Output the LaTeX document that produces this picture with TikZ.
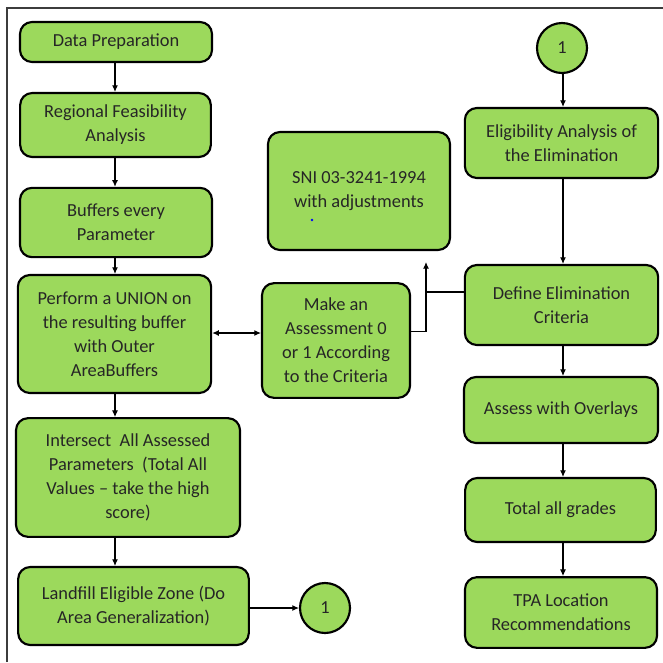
\documentclass[tikz,border=0pt]{standalone}
\usepackage{fontspec}
\setmainfont{Carlito}
\usetikzlibrary{arrows.meta,calc}
\definecolor{boxgreen}{RGB}{156,217,92}
\definecolor{framegray}{RGB}{60,60,60}
\begin{document}
\begin{tikzpicture}[x=0.75pt,y=-0.75pt,
  box/.style={draw=black,line width=1.6pt,fill=boxgreen,rounded corners=9pt,
    align=center,inner sep=2pt,font=\fontsize{13.8}{18}\selectfont,text=black!85},
  conn/.style={draw=black,line width=0.8pt},
  arr/.style={conn,-{Latex[length=5pt,width=4.5pt]}},
  darr/.style={conn,{Latex[length=5pt,width=4.5pt]}-{Latex[length=5pt,width=4.5pt]}},
  circ/.style={draw=black,line width=1.6pt,fill=boxgreen,circle,minimum size=37.5pt,
    inner sep=0pt,font=\fontsize{13.8}{18}\selectfont,text=black!85}]
\useasboundingbox (0,0) rectangle (663,662);
\fill[white] (0,0) rectangle (663,662);
\draw[framegray,line width=0.8pt] (7,662) -- (7,8) -- (663,8);

% left column
\node[box,minimum width=144pt,minimum height=30pt] (dp) at (116,42) {Data Preparation};
\node[box,minimum width=143pt,minimum height=48pt] (rfa) at (115.5,125) {Regional Feasibility\\Analysis};
\node[box,minimum width=144pt,minimum height=52pt] (buf) at (116,222.5) {Buffers every\\Parameter};
\node[box,minimum width=145pt,minimum height=88.5pt] (uni) at (114.5,334) {Perform a UNION on\\the resulting buffer\\with Outer\\AreaBuffers};
\node[box,minimum width=168pt,minimum height=89pt] (ins) at (128,477.5) {Intersect\ \ All Assessed\\Parameters\ \ (Total All\\Values -- take the high\\score)};
\node[box,minimum width=173pt,minimum height=58.5pt] (lf) at (133.5,606) {Landfill Eligible Zone (Do\\Area Generalization)};
\node[circ] (c1b) at (325,608) {1};

% middle
\node[box,minimum width=136.5pt,minimum height=88.5pt] (sni) at (359,191) {SNI 03-3241-1994\\with adjustments};
\fill[blue] (312,220) circle (1pt);
\node[box,minimum width=111pt,minimum height=86pt] (ass) at (336,340.5) {Make an\\Assessment 0\\or 1 According\\to the Criteria};

% right column
\node[circ] (c1t) at (562,48) {1};
\node[box,minimum width=145pt,minimum height=52.5pt] (eli) at (561.5,143) {Eligibility Analysis of\\the Elimination};
\node[box,minimum width=145pt,minimum height=60pt] (def) at (561.5,305) {Define Elimination\\Criteria};
\node[box,minimum width=145.5pt,minimum height=49.5pt] (aso) at (561,410) {Assess with Overlays};
\node[box,minimum width=143pt,minimum height=48pt] (tot) at (560.5,510) {Total all grades};
\node[box,minimum width=144pt,minimum height=53pt] (tpa) at (561,612.5) {TPA Location\\Recommendations};

\coordinate (colL) at (115,0);
\coordinate (colR) at (563,0);
\coordinate (tip) at (426,262);
\coordinate (jn) at (426,292);

% left column arrows
\draw[arr] (dp.south -| colL) -- (rfa.north -| colL);
\draw[arr] (rfa.south -| colL) -- (buf.north -| colL);
\draw[arr] (buf.south -| colL) -- (uni.north -| colL);
\draw[arr] (uni.south -| colL) -- (ins.north -| colL);
\draw[arr] (ins.south -| colL) -- (lf.north -| colL);
\draw[arr] (lf.east |- c1b) -- (c1b.west);

% middle connectors
\draw[darr] ([yshift=0.75pt]uni.east) -- ([yshift=0.75pt]uni.east -| ass.west);
\draw[arr] ([yshift=6.75pt]ass.east) -| (tip);
\draw[conn] (def.west |- jn) -- (jn);

% right column arrows
\draw[arr] (c1t.south -| colR) -- (eli.north -| colR);
\draw[arr] (eli.south -| colR) -- (def.north -| colR);
\draw[arr] (def.south -| colR) -- (aso.north -| colR);
\draw[arr] (aso.south -| colR) -- (tot.north -| colR);
\draw[arr] (tot.south -| colR) -- (tpa.north -| colR);
\end{tikzpicture}
\end{document}
